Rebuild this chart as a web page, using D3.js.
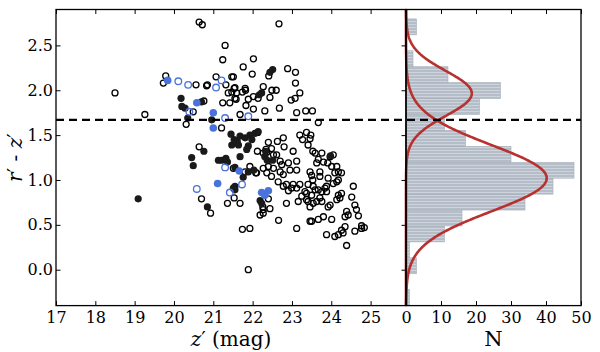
<!DOCTYPE html>
<html>
<head>
<meta charset="utf-8">
<script src="https://cdn.jsdelivr.net/npm/d3@7"></script>
<style>
body { margin: 0; background: #fff; }
svg { display: block; font-family: "DejaVu Serif", serif; }
</style>
</head>
<body>
<svg></svg>
<script>
// Colour vs magnitude points (z', r'-z')
const blackOpen = [
[18.50,1.97],[19.26,1.73],[19.79,2.16],[19.73,2.08],[20.56,2.06],[20.49,1.76],[20.31,1.62],[20.64,2.76],[20.72,2.73],
[20.64,1.37],[20.85,2.06],[21.07,2.15],[21.32,2.06],[21.47,2.15],[21.38,1.97],[21.47,1.98],[21.24,1.86],[21.42,1.86],
[20.76,1.88],[21.21,1.58],[21.51,1.13],[20.70,0.79],[20.93,0.63],[21.36,0.74],[21.24,2.34],[22.67,2.74],[21.30,2.50],
[22.02,2.35],[21.76,2.26],[21.99,2.18],[22.41,2.16],[22.89,2.24],[23.09,2.20],[23.09,2.08],[21.51,2.15],[20.83,2.05],
[21.55,2.03],[21.74,1.98],[21.82,2.00],[22.27,2.04],[22.49,2.00],[22.60,2.00],[23.20,1.97],[22.98,1.89],[23.08,1.91],
[21.55,1.91],[21.89,1.90],[22.02,1.93],[22.14,1.91],[22.44,1.92],[21.83,1.83],[22.02,1.79],[22.31,1.77],[22.68,1.80],
[23.12,1.75],[23.35,1.77],[23.52,1.77],[23.67,1.64],[21.68,1.73],[21.58,1.90],[21.53,2.02],[21.81,2.02],[21.59,1.97],
[22.13,1.53],[22.40,1.42],[22.63,1.43],[22.78,1.47],[22.80,1.37],[22.34,1.34],[22.48,1.35],[23.03,1.32],[22.12,1.32],
[23.20,1.50],[23.37,1.53],[23.27,1.45],[23.46,1.46],[23.41,1.39],[23.53,1.32],[23.48,1.50],
[22.27,1.30],[22.36,1.31],[22.53,1.28],[22.61,1.28],[22.70,1.21],[22.74,1.17],[22.91,1.19],[23.12,1.21],
[23.59,1.30],[23.76,1.30],[23.67,1.23],[23.63,1.19],[23.80,1.20],[23.97,1.26],[24.05,1.28],
[23.91,1.19],[24.01,1.15],[24.14,1.15],[24.18,1.09],[24.26,1.08],[24.09,1.08],
[23.46,1.09],[23.50,1.05],[23.71,1.09],[23.71,1.04],[23.92,1.02],[24.14,0.98],[24.05,0.96],[24.18,1.00],[23.88,0.93],
[23.41,0.95],[23.54,0.93],[23.59,0.89],[23.67,0.89],[23.76,0.87],[23.84,0.91],[23.88,0.87],
[23.37,0.85],[23.50,0.83],[23.71,0.80],[23.63,0.76],[23.76,0.76],[23.41,0.76],[23.54,0.74],
[24.18,0.83],[24.26,0.85],[24.22,0.80],[24.14,0.78],[23.97,0.72],[23.92,0.70],
[24.52,0.81],[24.60,0.72],[24.64,0.67],[24.39,0.65],[24.43,0.61],[24.35,0.59],
[24.69,0.60],[24.77,0.49],[24.84,0.47],[23.50,0.54],[23.67,0.56],[23.80,0.59],[24.01,0.56],
[24.18,0.39],[24.09,0.37],[24.26,0.44],[24.35,0.48],[24.30,0.41],[23.88,0.39],[24.60,0.43],[24.77,0.46],[24.39,0.27],[24.56,0.93],
[21.93,1.15],[22.08,1.08],[21.81,1.09],[22.10,1.08],[22.27,1.13],[22.36,1.08],[22.40,1.15],[22.53,1.13],[22.48,1.04],
[22.70,1.09],[22.78,1.06],[22.65,0.98],[22.86,0.95],[23.03,0.95],[22.99,0.91],[22.78,0.93],[22.95,1.11],[23.12,1.11],[23.53,1.00],
[21.53,0.80],[21.68,0.74],[22.40,0.79],[22.27,0.67],[22.44,0.68],[22.19,0.61],[21.74,0.45],[21.93,0.46],[21.89,0.00],
[22.66,0.55],[23.12,0.46],[22.86,0.74],[22.91,0.88],[22.26,0.70],[22.27,0.63],[23.16,0.76],[23.25,0.82],[23.37,0.78],
[23.46,0.70],[23.46,0.54],[23.12,0.91],[23.20,0.95],[23.33,0.87]
];
const blackFilled = [
[19.09,0.79],[20.18,1.91],[20.20,1.82],[20.28,1.80],[20.35,1.69],[20.45,1.25],[20.49,1.16],[20.70,1.87],[20.96,1.67],
[20.76,1.32],[21.45,1.51],[21.47,1.39],[21.13,1.22],[21.21,1.22],[21.32,1.24],[21.36,1.20],[21.51,0.91],[20.85,0.70],
[21.55,0.93],[21.55,0.89],[21.76,1.03],[22.19,0.77],[22.23,0.74],[21.53,1.45],[21.61,1.43],[21.68,1.49],[21.81,1.47],
[21.64,1.39],[21.93,1.50],[21.98,1.45],[21.89,1.38],[21.85,1.34],[22.06,1.52],[22.14,1.54],[21.68,1.26],[22.31,1.26],
[22.37,1.22],[22.51,1.22],[22.51,2.23],[22.44,2.20],[22.23,1.97],[22.17,1.95],[21.55,1.14],[21.89,1.09],[22.03,1.11],
[22.33,1.32],[23.98,1.27]
];
const blueOpen = [
[20.11,2.10],[20.36,2.06],[20.39,1.76],[20.58,0.90],[21.21,2.11],[21.07,2.03],[21.30,1.69],[21.30,1.14],[21.42,0.86],
[21.73,0.95],[21.89,1.71]
];
const blueFilled = [
[19.84,2.11],[20.58,1.86],[21.00,1.75],[21.00,1.58],[21.11,0.96],[21.66,1.10],[22.23,0.86],[22.31,0.83],[22.40,0.88]
];

// Histogram of r'-z'
const histEdges = [-0.4,-0.2225,-0.045,0.1325,0.31,0.4875,0.665,0.8425,1.02,1.1975,1.375,1.5525,1.73,1.9075,2.085,2.2625,2.44,2.6175,2.795];
const histCounts = [1,0,3,1,11,16,34,42,48,30,17,11,21,27,12,2,0,3];

// Two gaussian components drawn over the histogram
const gaussAmp = [18.8, 40.2];
const gaussMean = [1.965, 1.02];
const gaussSigma = [0.25, 0.37];

const colourCut = 1.67;

const xTicks = [17,18,19,20,21,22,23,24,25];
const yTicks = [0.0,0.5,1.0,1.5,2.0,2.5];
const nTicks = [0,10,20,30,40,50];

const width = 600, height = 352;
const svg = d3.select("svg").attr("width", width).attr("height", height);

const x = d3.scaleLinear().domain([17, 25.9]).range([56, 406]);
const y = d3.scaleLinear().domain([-0.4, 2.9]).range([305.6, 9.5]);
const hx = d3.scaleLinear().domain([0, 50]).range([406, 581]);

const blue = "#4a72dc";

// hatched bar fill
const defs = svg.append("defs");
const pat = defs.append("pattern").attr("id", "hatch")
  .attr("patternUnits", "userSpaceOnUse").attr("width", 4).attr("height", 3);
pat.append("rect").attr("width", 4).attr("height", 3).attr("fill", "#b4bdc8");
pat.append("line").attr("x1", 0).attr("x2", 4).attr("y1", 0.5).attr("y2", 0.5)
  .attr("stroke", "#d3d9e0").attr("stroke-width", 0.8);

// histogram bars
svg.append("g").selectAll("rect")
  .data(histCounts.map((c, i) => ({c, lo: histEdges[i], hi: histEdges[i + 1]})).filter(d => d.c > 0))
  .join("rect")
  .attr("x", hx(0))
  .attr("y", d => y(d.hi))
  .attr("width", d => hx(d.c) - hx(0))
  .attr("height", d => y(d.lo) - y(d.hi))
  .attr("fill", "url(#hatch)")
  .attr("stroke", "#a4adb8")
  .attr("stroke-width", 0.6);

// gaussian curves
const ys = d3.range(-0.4, 2.9001, 0.01);
gaussAmp.forEach((a, k) => {
  const line = d3.line()
    .x(v => hx(a * Math.exp(-Math.pow(v - gaussMean[k], 2) / (2 * gaussSigma[k] * gaussSigma[k]))))
    .y(v => y(v));
  svg.append("path").datum(ys).attr("d", line)
    .attr("fill", "none").attr("stroke", "#b8312f").attr("stroke-width", 2.6);
});

// scatter points
const pts = svg.append("g");
pts.selectAll(".bo").data(blackOpen).join("circle")
  .attr("cx", d => x(d[0])).attr("cy", d => y(d[1])).attr("r", 3)
  .attr("fill", "none").attr("stroke", "#000").attr("stroke-width", 1.3);
pts.selectAll(".bf").data(blackFilled).join("circle")
  .attr("cx", d => x(d[0])).attr("cy", d => y(d[1])).attr("r", 3.6)
  .attr("fill", "#1a1a1a");
pts.selectAll(".uo").data(blueOpen).join("circle")
  .attr("cx", d => x(d[0])).attr("cy", d => y(d[1])).attr("r", 3.3)
  .attr("fill", "none").attr("stroke", blue).attr("stroke-width", 1.3);
pts.selectAll(".uf").data(blueFilled).join("circle")
  .attr("cx", d => x(d[0])).attr("cy", d => y(d[1])).attr("r", 3.8)
  .attr("fill", blue);

// dashed cut line across both panels
svg.append("line")
  .attr("x1", x(17)).attr("x2", hx(50))
  .attr("y1", y(colourCut)).attr("y2", y(colourCut))
  .attr("stroke", "#000").attr("stroke-width", 2.2).attr("stroke-dasharray", "8,5");

// axes
function style(g) {
  g.select(".domain").remove();
  g.selectAll(".tick line").attr("stroke", "#000").attr("stroke-width", 1);
  g.selectAll(".tick text").attr("fill", "#000").style("font-size", "16px").style("font-family", "DejaVu Serif");
}
svg.append("g").attr("transform", `translate(0,${y(-0.4)})`)
  .call(d3.axisBottom(x).tickValues(xTicks).tickFormat(d3.format("d")).tickSize(-4.5).tickPadding(6)).call(style);
svg.append("g").attr("transform", `translate(0,${y(2.9)})`)
  .call(d3.axisTop(x).tickValues(xTicks).tickFormat("").tickSize(-4.5)).call(style);
svg.append("g").attr("transform", `translate(${x(17)},0)`)
  .call(d3.axisLeft(y).tickValues(yTicks).tickFormat(d3.format(".1f")).tickSize(-4.5).tickPadding(3)).call(style);
svg.append("g").attr("transform", `translate(${x(25.9)},0)`)
  .call(d3.axisRight(y).tickValues(yTicks).tickFormat("").tickSize(-4.5)).call(style);
svg.append("g").attr("transform", `translate(0,${y(-0.4)})`)
  .call(d3.axisBottom(hx).tickValues(nTicks).tickFormat(d3.format("d")).tickSize(-4.5).tickPadding(6)).call(style);
svg.append("g").attr("transform", `translate(0,${y(2.9)})`)
  .call(d3.axisTop(hx).tickValues(nTicks).tickFormat("").tickSize(-4.5)).call(style);

// frames
svg.append("rect").attr("x", x(17)).attr("y", y(2.9))
  .attr("width", x(25.9) - x(17)).attr("height", y(-0.4) - y(2.9))
  .attr("fill", "none").attr("stroke", "#000").attr("stroke-width", 1.3);
svg.append("rect").attr("x", hx(0)).attr("y", y(2.9))
  .attr("width", hx(50) - hx(0)).attr("height", y(-0.4) - y(2.9))
  .attr("fill", "none").attr("stroke", "#000").attr("stroke-width", 1.3);

// axis labels
const xl = svg.append("text").attr("x", (x(17) + x(25.9)) / 2).attr("y", 346)
  .attr("text-anchor", "middle").style("font-size", "20px");
xl.append("tspan").style("font-style", "italic").text("z");
xl.append("tspan").text("′ (mag)");

svg.append("text").attr("x", (hx(0) + hx(50)) / 2).attr("y", 346)
  .attr("text-anchor", "middle").style("font-size", "21px").text("N");

const yl = svg.append("text")
  .attr("transform", `translate(22,${(y(-0.4) + y(2.9)) / 2}) rotate(-90)`)
  .attr("text-anchor", "middle").style("font-size", "20px");
yl.append("tspan").style("font-style", "italic").text("r");
yl.append("tspan").text("′ - ");
yl.append("tspan").style("font-style", "italic").text("z");
yl.append("tspan").text("′");
</script>
</body>
</html>
